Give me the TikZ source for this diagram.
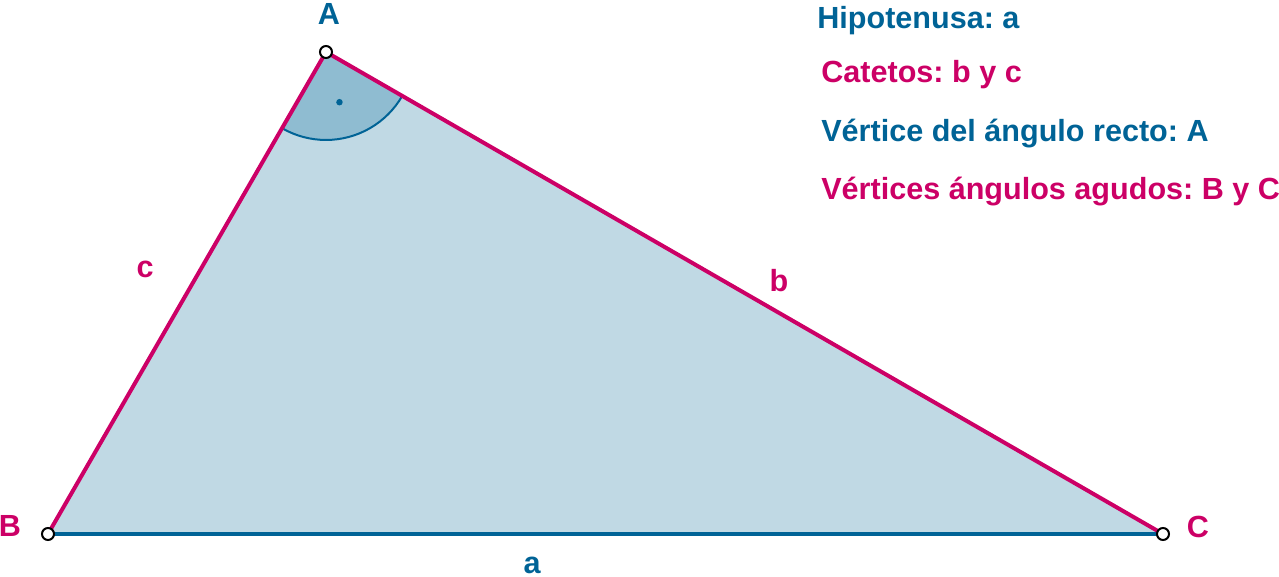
\documentclass[tikz,border=0pt]{standalone}
\usepackage{fontspec}
\setmainfont{Liberation Sans}
\usepackage{xcolor}
\usetikzlibrary{
  calc,
  positioning
}
\definecolor{azul}{RGB}{0,99,150}
\definecolor{rosa}{RGB}{204,0,102}
\definecolor{relleno}{RGB}{192,217,228}
\definecolor{relleno-angulo}{RGB}{143,188,209}
\frenchspacing

\begin{document}
\begin{tikzpicture}[
  x=0.02cm, y=0.02cm,
  font=\fontsize{17.4}{20}\selectfont\bfseries,
  lado/.style={line width=0.08cm, line cap=round},
  punto/.style={circle, draw=black, fill=white, line width=0.04cm, inner sep=0pt, minimum size=0.24cm},
  etiqueta/.style={anchor=base west, inner sep=0pt}
]
\useasboundingbox (0,0) rectangle (1279,577);
\coordinate (A) at (326,525);
\coordinate (B) at (48,43);
\coordinate (C) at (1163,43);
\fill[relleno] (A) -- (B) -- (C) -- cycle;
\fill[relleno-angulo] (A) -- ++(240.03:1.76cm) arc (240.03:330.06:1.76cm) -- cycle;
\draw[azul, line width=0.04cm] ($(A)+(240.03:1.76cm)$) arc (240.03:330.06:1.76cm);
\fill[azul] ($(A)+(285:1.04cm)$) circle (0.065cm);
\draw[lado, azul] (B) -- (C);
\draw[lado, rosa] (B) -- (A);
\draw[lado, rosa] (A) -- (C);
\node[punto] (pA) at (A) {};
\node[punto] (pB) at (B) {};
\node[punto] (pC) at (C) {};
\node[azul] (lA) at (329,563) {A};
\node[rosa] (lB) at (10,51) {B};
\node[rosa] (lC) at (1198,50) {C};
\node[azul, inner sep=0pt] (la) at (532,12) {a};
\node[rosa] (lb) at (779,296) {b};
\node[rosa] (lc) at (145,308) {c};
\node[etiqueta, azul] (hipotenusa) at (817,548) {Hipotenusa: a};
\node[etiqueta, rosa] (catetos) at (821,494) {Catetos: b y c};
\node[etiqueta, azul] (recto) at (821,435) {Vértice del ángulo recto: A};
\node[etiqueta, rosa] (agudos) at (821,377) {Vértices ángulos agudos: B y C};
\end{tikzpicture}
\end{document}
